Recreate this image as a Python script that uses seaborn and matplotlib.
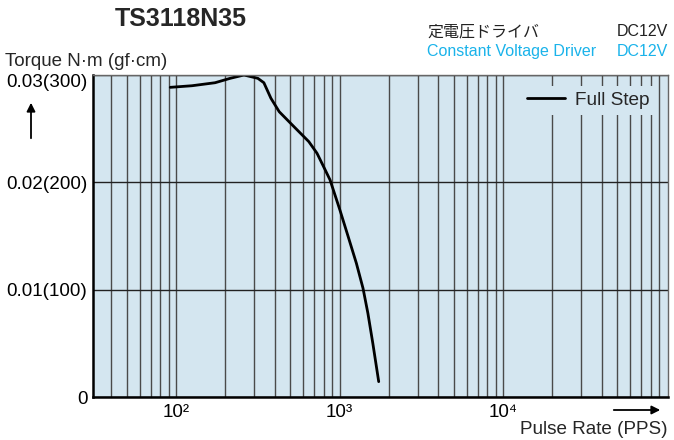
import matplotlib
matplotlib.use("Agg")
import matplotlib.pyplot as plt
import matplotlib.ticker as mticker
import matplotlib.transforms as mtransforms
import seaborn as sns
import pandas as pd

# curve (pulse rate in PPS, torque in N·m)
pulse_rate = [92, 125, 173, 214, 260, 316, 344, 380, 427, 526, 648, 727, 798, 874,
              1004, 1128, 1266, 1390, 1489, 1596, 1734]
torque = [0.02885, 0.02900, 0.02928, 0.02969, 0.03000, 0.02969, 0.02928, 0.02783, 0.02658,
          0.02518, 0.02379, 0.02271, 0.02146, 0.02022, 0.01742, 0.01494, 0.01246, 0.01013,
          0.0078, 0.0050, 0.00143]
series_name = "Full Step"

y_ticks = [0, 0.01, 0.02, 0.03]
y_tick_labels = ["0", "0.01(100)", "0.02(200)", "0.03(300)"]
x_ticks = [100, 1000, 10000]
x_tick_labels = ["10²", "10³", "10⁴"]

title = "TS3118N35"
driver_jp = "定電圧ドライバ"
driver_en = "Constant Voltage Driver"
voltage = "DC12V"

bg = "#d4e6f0"
blue = "#1ab3ea"

sns.set_style("white")
plt.rcParams["font.family"] = ["Liberation Sans", "DejaVu Sans", "Noto Sans CJK JP"]

df = pd.DataFrame({"pulse": pulse_rate, "torque": torque})

fig = plt.figure(figsize=(6.74, 4.40), dpi=100)
ax = fig.add_axes([93 / 674, 1 - 397 / 440, 575 / 674, 322 / 440])
ax.set_facecolor(bg)

ax.set_xscale("log")
ax.set_xlim(31, 1.02e5)
ax.set_ylim(0, 0.03)

# grid
ax.xaxis.set_minor_locator(mticker.LogLocator(base=10, subs=range(2, 10), numticks=20))
ax.set_xticks(x_ticks)
ax.set_xticklabels(x_tick_labels)
ax.xaxis.set_minor_formatter(mticker.NullFormatter())
ax.set_yticks(y_ticks)
ax.set_yticklabels(y_tick_labels)
ax.grid(True, which="both", axis="x", color="#4a4a4a", lw=1.0)
ax.grid(True, which="major", axis="y", color="#222222", lw=1.0)
ax.set_axisbelow(True)
ax.tick_params(which="both", length=0, labelsize=13.6, colors="black")
ax.tick_params(axis="y", pad=4)
ax.tick_params(axis="x", pad=5)

# top label sits a little below the frame in the reference
top_label = ax.get_yticklabels()[-1]
top_label.set_transform(top_label.get_transform()
                        + mtransforms.ScaledTranslation(0, -4 / 72, fig.dpi_scale_trans))

sns.lineplot(data=df, x="pulse", y="torque", ax=ax, color="black", lw=2,
             sort=False, label=series_name)
ax.set_xlabel("")
ax.set_ylabel("")

for side in ["top", "right"]:
    ax.spines[side].set_color("#666666")
    ax.spines[side].set_linewidth(1.0)
for side in ["left", "bottom"]:
    ax.spines[side].set_color("black")
    ax.spines[side].set_linewidth(1.8)

leg = ax.legend(loc="upper right", bbox_to_anchor=(0.977, 0.966), borderaxespad=0,
                frameon=True, facecolor=bg, edgecolor="none", framealpha=1,
                fontsize=13.7, handlelength=2.0, handletextpad=0.5,
                borderpad=0.3)
leg.get_frame().set_boxstyle("square", pad=0)

# texts around the plot
fig.text(115 / 674, 1 - 19 / 440, title, fontsize=18, fontweight="bold", va="center", ha="left")
fig.text(427 / 674, 1 - 32 / 440, driver_jp, fontsize=11.5, va="center", ha="left", color="#222222")
fig.text(668 / 674, 1 - 32 / 440, voltage, fontsize=11.5, va="center", ha="right", color="#222222")
fig.text(427 / 674, 1 - 51 / 440, driver_en, fontsize=11.5, va="center", ha="left", color=blue)
fig.text(668 / 674, 1 - 51 / 440, voltage, fontsize=11.5, va="center", ha="right", color=blue)
fig.text(5 / 674, 1 - 61 / 440, "Torque N·m (gf·cm)", fontsize=13.5, va="center", ha="left")
fig.text(667 / 674, 1 - 429 / 440, "Pulse Rate (PPS)", fontsize=13.6, va="center", ha="right")

fig.patches.append(matplotlib.patches.FancyArrowPatch(
    (31 / 674, 1 - 141 / 440), (31 / 674, 1 - 100 / 440), transform=fig.transFigure,
    arrowstyle="-|>,head_length=5,head_width=2.5", color="black", lw=1.3))
fig.patches.append(matplotlib.patches.FancyArrowPatch(
    (611 / 674, 1 - 410 / 440), (663 / 674, 1 - 410 / 440), transform=fig.transFigure,
    arrowstyle="-|>,head_length=5,head_width=2.5", color="black", lw=1.3))

fig.savefig("out.png", dpi=100)
plt.close(fig)
